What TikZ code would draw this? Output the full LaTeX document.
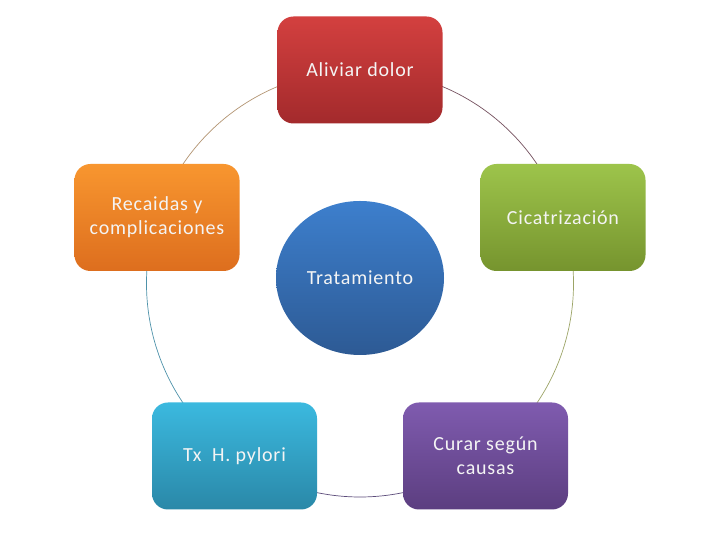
\documentclass[tikz,border=0pt]{standalone}
\usepackage{fontspec}
\setmainfont{Carlito}[LetterSpace=4]
\usetikzlibrary{shapes.geometric}
\definecolor{redT}{HTML}{D3403F}\definecolor{redB}{HTML}{A32A2C}
\definecolor{orT}{HTML}{F8962F}\definecolor{orB}{HTML}{DD6E1E}
\definecolor{grT}{HTML}{9DC44B}\definecolor{grB}{HTML}{76942E}
\definecolor{tlT}{HTML}{3BB9DF}\definecolor{tlB}{HTML}{2A88A8}
\definecolor{puT}{HTML}{7F5BAF}\definecolor{puB}{HTML}{5C3E80}
\definecolor{blT}{HTML}{3D7FCD}\definecolor{blB}{HTML}{2D5A94}
\definecolor{txt}{HTML}{F4F4F4}
\definecolor{arcA}{HTML}{B39472}
\definecolor{arcB}{HTML}{74505E}
\definecolor{arcC}{HTML}{9CA466}
\definecolor{arcD}{HTML}{5C4C7A}
\definecolor{arcE}{HTML}{4E92AA}
\tikzset{
  cyclebox/.style={rounded corners=16pt, minimum width=165pt, minimum height=107pt,
    inner sep=0pt, align=center, text=txt, font=\fontsize{20}{24}\selectfont},
  ringarc/.style={line width=0.7pt}
}
\begin{document}
\begin{tikzpicture}[x=1pt,y=1pt]
\useasboundingbox (0,0) rectangle (720,540);
\fill[white] (0,0) rectangle (720,540);
\coordinate (c) at (360,256.5);
% ring arcs
\draw[ringarc, arcA] (c) ++(90:213.5pt) arc[start angle=90, end angle=162, radius=213.5pt];
\draw[ringarc, arcB] (c) ++(90:213.5pt) arc[start angle=90, end angle=18, radius=213.5pt];
\draw[ringarc, arcC] (c) ++(18:213.5pt) arc[start angle=18, end angle=-54, radius=213.5pt];
\draw[ringarc, arcD] (c) ++(-54:213.5pt) arc[start angle=-54, end angle=-126, radius=213.5pt];
\draw[ringarc, arcE] (c) ++(162:213.5pt) arc[start angle=162, end angle=234, radius=213.5pt];
% boxes
\node[cyclebox, top color=redT, bottom color=redB] (alivio) at (360,470) {Aliviar dolor};
\node[cyclebox, top color=grT, bottom color=grB] (cicat) at (563,322.5) {Cicatrización};
\node[cyclebox, top color=puT, bottom color=puB] (curar) at (485.5,84) {Curar según\\causas};
\node[cyclebox, top color=tlT, bottom color=tlB] (hpylori) at (234.5,84) {Tx~ H. pylori};
\node[cyclebox, top color=orT, bottom color=orB] (recaidas) at (157,322.5) {Recaidas y\\complicaciones};
% center
\node[ellipse, minimum width=168pt, minimum height=154pt, inner sep=0pt,
  top color=blT, bottom color=blB, text=txt, font=\fontsize{20}{24}\selectfont] (trat) at (360,262) {Tratamiento};
\end{tikzpicture}
\end{document}
